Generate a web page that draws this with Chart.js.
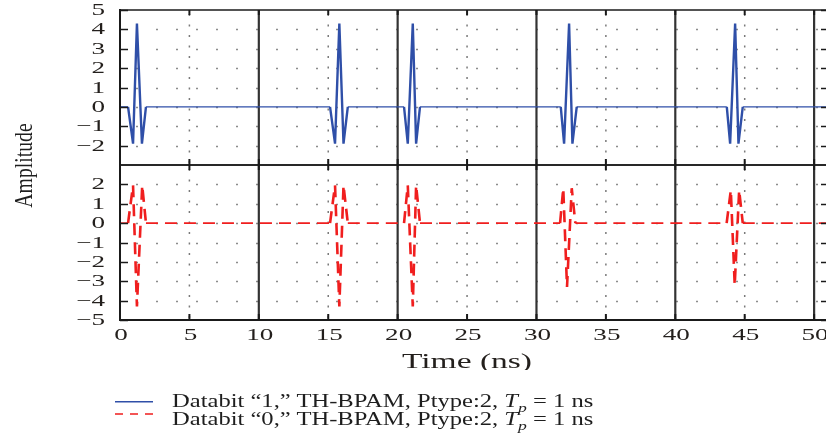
<!DOCTYPE html>
<html><head><meta charset="utf-8">
<script src="https://cdn.jsdelivr.net/npm/chart.js@4.4.0/dist/chart.umd.min.js"></script>
<style>
html,body{margin:0;padding:0;overflow:hidden;background:#fff;width:826px;height:441px;position:relative;}
canvas{position:absolute;left:0;}
#cTop{top:0;}
#cBot{top:163px;}
.txt{position:absolute;font-family:"Liberation Serif",serif;color:#1e1e1e;white-space:nowrap;line-height:18px;font-size:18.5px;transform-origin:0 50%;}
.txt sub{font-size:0.72em;vertical-align:-0.35em;line-height:0;}
#ylab{font-size:19px;line-height:19px;transform-origin:50% 50%;}
</style></head><body>
<canvas id="cTop" width="830" height="168"></canvas>
<canvas id="cBot" width="830" height="207"></canvas>
<div id="ylab" class="txt">Amplitude</div>
<svg id="legSvg" width="826" height="441" style="position:absolute;left:0;top:0;pointer-events:none"></svg>
<script>
// ---------- data ----------
const timeBit1 = [0, 0.58, 0.94, 1.22, 1.58, 1.87, 15.13, 15.49, 15.8, 16.1, 16.41, 20.46, 20.73, 21.09, 21.33, 21.61, 31.75, 31.99, 32.35, 32.59, 32.9, 43.71, 43.95, 44.31, 44.55, 44.86, 51];
const ampBit1  = [0, 0, -1.9, 4.3, -1.9, 0, 0, -1.9, 4.3, -1.9, 0, 0, -1.9, 4.3, -1.9, 0, 0, -1.9, 4.3, -1.9, 0, 0, -1.9, 4.3, -1.9, 0, 0];
const timeBit0 = [0, 0.58, 0.94, 1.22, 1.6, 1.87, 15.13, 15.49, 15.8, 16.1, 16.41, 20.46, 20.73, 21.09, 21.33, 21.61, 31.7, 31.93, 32.2, 32.54, 32.8, 43.7, 44.0, 44.28, 44.6, 44.86, 51];
const ampBit0  = [0, 0, 1.95, -4.3, 1.95, 0, 0, 1.95, -4.3, 1.95, 0, 0, 1.95, -4.3, 1.95, 0, 0, 1.8, -3.3, 1.8, 0, 0, 1.7, -3.2, 1.7, 0, 0];
const xTicks = [0, 5, 10, 15, 20, 25, 30, 35, 40, 45, 50];
const yTicksTop = [5, 4, 3, 2, 1, 0, -1, -2];
const yTicksBot = [2, 1, 0, -1, -2, -3, -4, -5];
const seriesLabels = ['Databit \u201c1,\u201d TH-BPAM, Ptype:2, ', 'Databit \u201c0,\u201d TH-BPAM, Ptype:2, '];
const legendTail = ' = 1 ns';
const xTitle = 'Time (ns)';
const yTitle = 'Amplitude';

const FONT = '"Liberation Serif", serif';
const LABEL_COLOR = '#231f1c';
const SX = 1.55;

function fmt(v){ return v < 0 ? '\u2212' + Math.abs(v) : String(v); }
function seg(ctx, x1, y1, x2, y2){ ctx.beginPath(); ctx.moveTo(x1, y1); ctx.lineTo(x2, y2); ctx.stroke(); }
function stretched(ctx, text, x, y, sx, align){
  ctx.save(); ctx.translate(x, y); ctx.scale(sx, 1);
  ctx.textAlign = align; ctx.textBaseline = 'middle'; ctx.fillText(text, 0, 0); ctx.restore();
}

const panelFrame = {
  id: 'panelFrame',
  beforeDatasetsDraw(chart, args, o) {
    const {ctx, chartArea: a, scales: {x, y}} = chart;
    ctx.save();
    ctx.strokeStyle = '#8c8c8c'; ctx.lineWidth = 1.5; ctx.setLineDash([2, 18]); ctx.lineDashOffset = -16;
    o.yTicks.forEach(v => {
      if (v <= y.min || v >= y.max) return;
      const py = Math.round(y.getPixelForValue(v)) + 0.5;
      seg(ctx, a.left, py, a.right, py);
    });
    xTicks.forEach(v => {
      if (v <= x.min) return;
      const px = x.getPixelForValue(v);
      if (v % 10 === 0) {
        ctx.setLineDash([]); ctx.strokeStyle = '#333'; ctx.lineWidth = 2.2;
      } else {
        ctx.setLineDash([2, 8.5]); ctx.lineDashOffset = -4; ctx.strokeStyle = '#7a7a7a'; ctx.lineWidth = 1.5;
      }
      seg(ctx, px, a.top, px, a.bottom);
    });
    ctx.restore();
  },
  afterDatasetsDraw(chart, args, o) {
    const {ctx, chartArea: a, scales: {x, y}} = chart;
    ctx.save();
    ctx.setLineDash([]);
    ctx.strokeStyle = '#1a1a1a';
    ctx.lineWidth = 2; seg(ctx, a.left, a.top - 1, a.left, a.bottom + 1);
    ctx.lineWidth = 1.6;
    seg(ctx, a.left, a.top, a.right, a.top);
    ctx.lineWidth = o.bottomWidth; seg(ctx, a.left, a.bottom, a.right, a.bottom);
    ctx.lineWidth = 2; seg(ctx, a.right, a.top, a.right, a.bottom);
    ctx.lineWidth = 1.5;
    o.yTicks.forEach(v => {
      const py = Math.round(y.getPixelForValue(v)) + 0.5;
      seg(ctx, a.left, py, a.left + 8, py);
      seg(ctx, a.right - 7, py, a.right, py);
    });
    ctx.lineWidth = 2;
    xTicks.forEach(v => {
      const px = x.getPixelForValue(v);
      seg(ctx, px, a.bottom, px, a.bottom - 6);
      seg(ctx, px, a.top, px, a.top + 5);
    });
    ctx.fillStyle = LABEL_COLOR;
    ctx.font = '17.5px ' + FONT;
    o.yTicks.forEach(v => {
      stretched(ctx, fmt(v), 105, y.getPixelForValue(v) + 0.5, SX, 'right');
    });
    if (o.showX) {
      xTicks.forEach(v => {
        stretched(ctx, fmt(v), x.getPixelForValue(v) + 1, a.bottom + 15, SX, 'center');
      });
      ctx.font = '21px ' + FONT;
      const w = ctx.measureText(xTitle).width;
      stretched(ctx, xTitle, 467, a.bottom + 42, 130 / w, 'center');
    }
    ctx.restore();
  }
};

function makeChart(id, label, times, amps, color, dash, wBase, wPulse, yMin, yMax, yTicks, isBottom, padTop, padBottom) {
  return new Chart(document.getElementById(id), {
    type: 'line',
    data: { datasets: [{
      label: label,
      data: times.map((t, i) => ({x: t, y: amps[i]})),
      borderColor: color, borderWidth: wBase, borderDash: dash,
      pointRadius: 0, tension: 0, fill: false,
      segment: { borderWidth: c => (c.p0.parsed.y !== 0 || c.p1.parsed.y !== 0) ? wPulse : wBase }
    }]},
    options: {
      responsive: false, animation: false, devicePixelRatio: 1,
      layout: {padding: {top: padTop, bottom: padBottom, left: 0, right: 2}},
      plugins: {
        legend: {display: false}, tooltip: {enabled: false},
        panelFrame: {yTicks: yTicks, showX: isBottom, bottomWidth: isBottom ? 2.2 : 1.6}
      },
      scales: {
        x: {type: 'linear', min: 0, max: 51, display: isBottom,
            grid: {display: false}, border: {display: false}, ticks: {display: false},
            afterFit(s) { s.height = isBottom ? 50 : 0; }},
        y: {type: 'linear', min: yMin, max: yMax,
            grid: {display: false}, border: {display: false}, ticks: {display: false},
            afterFit(s) { s.width = 120; }}
      }
    },
    plugins: [panelFrame]
  });
}

makeChart('cTop', seriesLabels[0], timeBit1, ampBit1, '#2f4fa8', [], 1.4, 2.4, -3, 5, yTicksTop, false, 10, 3);
makeChart('cBot', seriesLabels[1], timeBit0, ampBit0, '#f01e1e', [12, 7], 1.6, 2.6, -5, 3, yTicksBot, true, 2, 0);

// ---------- y title ----------
const yl = document.getElementById('ylab');
yl.textContent = yTitle;
const ylw = yl.offsetWidth, ylh = yl.offsetHeight;
yl.style.left = (23 - ylw / 2) + 'px';
yl.style.top = (165 - ylh / 2) + 'px';
yl.style.transform = 'rotate(-90deg) scale(' + (84 / ylw).toFixed(3) + ',1.35)';

// ---------- legend ----------
const svg = document.getElementById('legSvg');
const NS = 'http://www.w3.org/2000/svg';
const legY = [401.7, 414];
const legColors = ['#2f4fa8', '#f01e1e'];
const legDash = ['', '8 7'];
const baseTop = [392, 410];
for (let i = 0; i < 2; i++) {
  const ln = document.createElementNS(NS, 'line');
  ln.setAttribute('x1', 115); ln.setAttribute('x2', 153);
  ln.setAttribute('y1', legY[i]); ln.setAttribute('y2', legY[i]);
  ln.setAttribute('stroke', legColors[i]); ln.setAttribute('stroke-width', 1.6);
  if (legDash[i]) ln.setAttribute('stroke-dasharray', legDash[i]);
  svg.appendChild(ln);
  const d = document.createElement('div');
  d.className = 'txt';
  d.appendChild(document.createTextNode(seriesLabels[i]));
  const it = document.createElement('i');
  it.appendChild(document.createTextNode('T'));
  const sb = document.createElement('sub'); sb.textContent = 'p'; it.appendChild(sb);
  d.appendChild(it);
  d.appendChild(document.createTextNode(legendTail));
  d.style.left = '172px'; d.style.top = baseTop[i] + 'px';
  document.body.appendChild(d);
  const w = d.offsetWidth;
  d.style.transform = 'scaleX(' + (421 / w).toFixed(3) + ')';
}
</script>
</body></html>
